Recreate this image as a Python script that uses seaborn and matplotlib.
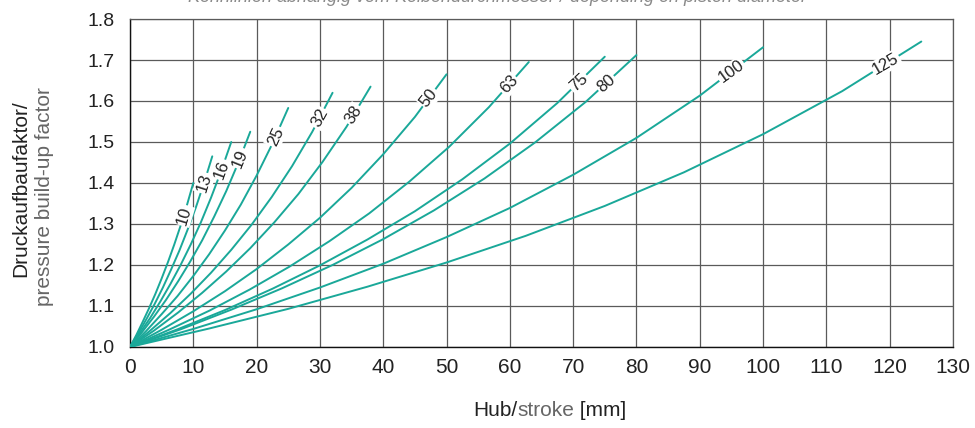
import numpy as np
import pandas as pd
import seaborn as sns
import matplotlib.pyplot as plt
from matplotlib.ticker import MultipleLocator

# piston diameters (curve labels) and the build-up factor
diameters = [10, 13, 16, 19, 25, 32, 38, 50, 63, 75, 80, 100, 125]
stroke_frac = [0.0, 0.1, 0.2, 0.3, 0.4, 0.5, 0.6, 0.7, 0.8, 0.9, 1.0]  # fraction of full stroke
factors = [
    [1.0, 1.029, 1.061, 1.094, 1.129, 1.167, 1.207, 1.250, 1.296, 1.346, 1.400],
    [1.0, 1.033, 1.068, 1.105, 1.145, 1.189, 1.235, 1.286, 1.340, 1.400, 1.465],
    [1.0, 1.035, 1.071, 1.111, 1.154, 1.200, 1.250, 1.304, 1.364, 1.429, 1.500],
    [1.0, 1.036, 1.074, 1.115, 1.160, 1.208, 1.260, 1.318, 1.380, 1.449, 1.525],
    [1.0, 1.038, 1.080, 1.124, 1.173, 1.226, 1.284, 1.347, 1.418, 1.496, 1.583],
    [1.0, 1.040, 1.083, 1.130, 1.181, 1.237, 1.298, 1.366, 1.441, 1.525, 1.620],
    [1.0, 1.040, 1.084, 1.132, 1.184, 1.241, 1.304, 1.373, 1.451, 1.537, 1.635],
    [1.0, 1.042, 1.087, 1.136, 1.190, 1.250, 1.315, 1.388, 1.470, 1.561, 1.665],
    [1.0, 1.043, 1.089, 1.140, 1.196, 1.258, 1.326, 1.403, 1.488, 1.585, 1.695],
    [1.0, 1.043, 1.090, 1.142, 1.199, 1.262, 1.331, 1.409, 1.496, 1.595, 1.708],
    [1.0, 1.043, 1.091, 1.143, 1.200, 1.263, 1.333, 1.411, 1.499, 1.598, 1.712],
    [1.0, 1.044, 1.092, 1.145, 1.203, 1.268, 1.339, 1.420, 1.510, 1.613, 1.731],
    [1.0, 1.045, 1.093, 1.147, 1.206, 1.271, 1.344, 1.426, 1.519, 1.624, 1.745],
]
# where along each curve the label sits
label_t = [0.85, 0.90, 0.905, 0.915, 0.92, 0.935, 0.93, 0.945, 0.95, 0.945, 0.94, 0.95, 0.955]

rows = []
for d, ys in zip(diameters, factors):
    for f, y in zip(stroke_frac, ys):
        rows.append({"diameter": d, "stroke": d * f, "factor": y})
df = pd.DataFrame(rows)

teal = "#1AA899"
grid_c = "#5a5a5a"
narrow = ["Liberation Sans Narrow", "Liberation Sans", "DejaVu Sans"]

sns.set_style("white")
plt.rcParams["font.family"] = ["Liberation Sans", "DejaVu Sans"]

fig = plt.figure(figsize=(9.75, 4.28), dpi=100)
ax = fig.add_axes([0.1333, 0.1893, 0.8441, 0.7663])

sns.lineplot(data=df, x="stroke", y="factor", units="diameter", estimator=None,
             color=teal, linewidth=1.4, ax=ax, zorder=3)

ax.set_xlim(0, 130)
ax.set_ylim(1.0, 1.8)
ax.xaxis.set_major_locator(MultipleLocator(10))
ax.xaxis.set_minor_locator(MultipleLocator(5))
ax.yaxis.set_major_locator(MultipleLocator(0.1))
ax.set_yticks(ax.get_yticks())
ax.set_yticklabels([f"{v:.1f}" for v in ax.get_yticks()])
ax.set_ylim(1.0, 1.8)
ax.grid(True, which="major", color=grid_c, linewidth=0.9)
ax.set_axisbelow(True)

for s in ["top", "right"]:
    ax.spines[s].set_color(grid_c)
    ax.spines[s].set_linewidth(0.9)
for s in ["left", "bottom"]:
    ax.spines[s].set_color("#111111")
    ax.spines[s].set_linewidth(1.0)

ax.tick_params(axis="both", which="both", direction="out", color="#111111", width=0.8)
ax.tick_params(axis="x", which="major", length=5, labelsize=15, pad=3)
ax.tick_params(axis="x", which="minor", length=4)
ax.tick_params(axis="y", which="major", length=5, labelsize=14, pad=6)
for lab in ax.get_xticklabels():
    lab.set_family(narrow)
    lab.set_color("#222222")
for lab in ax.get_yticklabels():
    lab.set_color("#222222")

ax.set_xlabel("")
ax.set_ylabel("")

# axis titles: German in black, English in grey
t1 = fig.text(0.485, 0.042, "Hub/", ha="left", va="center", fontsize=15, family=narrow, color="#222222")
t2 = ax.annotate("stroke", xy=(1, 0.5), xycoords=t1, ha="left", va="center",
                 fontsize=15, family=narrow, color="#666666", annotation_clip=False)
ax.annotate(" [mm]", xy=(1, 0.5), xycoords=t2, ha="left", va="center",
            fontsize=15, family=narrow, color="#222222", annotation_clip=False)
fig.text(0.021, 0.56, "Druckaufbaufaktor/", rotation=90, ha="center", va="center",
         fontsize=15, family=narrow, color="#222222")
fig.text(0.046, 0.54, "pressure build-up factor", rotation=90, ha="center", va="center",
         fontsize=15, family=narrow, color="#666666")

# faint caption cut off at the top edge, as in the source
fig.text(0.51, 1.005, "Kennlinien abhängig vom Kolbendurchmesser / depending on piston diameter",
         ha="center", va="center", fontsize=13, style="italic", family=narrow, color="#8a8a8a")

# curve labels, rotated along each curve with a white box breaking the line
for d, ys, t in zip(diameters, factors, label_t):
    xs = np.array(stroke_frac) * d
    lx = t * d
    ly = np.interp(lx, xs, ys)
    p0 = ax.transData.transform((xs[-3], ys[-3]))
    p1 = ax.transData.transform((xs[-1], ys[-1]))
    ang = np.degrees(np.arctan2(p1[1] - p0[1], p1[0] - p0[0]))
    ax.text(lx, ly, str(d), rotation=ang, rotation_mode="anchor", ha="center", va="center",
            fontsize=12, color="#222222", zorder=4,
            bbox=dict(facecolor="white", edgecolor="none", pad=1.0))

fig.savefig("out.png", dpi=100)
